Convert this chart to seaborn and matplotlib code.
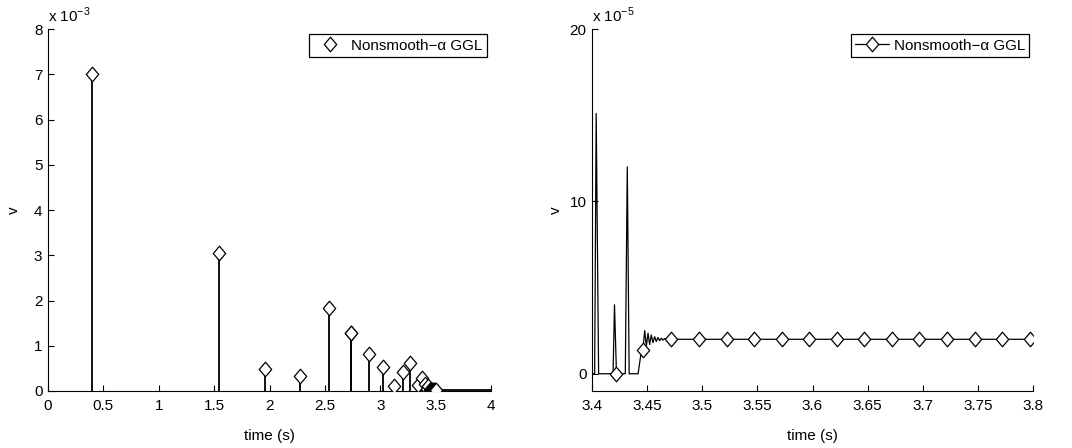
import numpy as np
import pandas as pd
import matplotlib
matplotlib.use("Agg")
import matplotlib.pyplot as plt
import seaborn as sns
from matplotlib.lines import Line2D
from matplotlib.path import Path

# ---------------- data ----------------
# Left panel: impact velocity spikes (v in units of 1e-3)
stem_time = [0.397, 1.546, 1.955, 2.277, 2.535, 2.735, 2.737, 2.899, 3.029, 3.128,
             3.209, 3.271, 3.345, 3.380, 3.404, 3.420, 3.432, 3.446, 3.452, 3.458,
             3.464, 3.470, 3.476, 3.482, 3.488, 3.494, 3.499]
stem_v_e3 = [7.01, 3.06, 0.49, 0.33, 1.84, 1.29, 1.29, 0.81, 0.53, 0.10,
             0.43, 0.61, 0.14, 0.28, 0.15, 0.04, 0.12, 0.014, 0.025, 0.018,
             0.022, 0.02, 0.02, 0.02, 0.02, 0.02, 0.02]
tail_time = [3.46, 4.0]
tail_v_e3 = [0.02, 0.02]

# Right panel: zoom on the end of the bouncing (v in units of 1e-5)
line_time = [3.4000, 3.4024, 3.4038, 3.4060, 3.4191, 3.4204, 3.4222, 3.4302, 3.4320,
             3.4337, 3.4418, 3.4445, 3.4462, 3.4478, 3.4493, 3.4508, 3.4523, 3.4538,
             3.4553, 3.4568, 3.4583, 3.4598, 3.4613, 3.4628, 3.4643, 3.4658, 3.4673,
             3.4688, 3.4710, 3.8000]
line_v_e5 = [0.0, 0.0, 15.1, 0.0, 0.0, 4.0, 0.0, 0.0, 12.0,
             0.0, 0.0, 1.2, 1.4, 2.5, 1.6, 2.35, 1.7, 2.25,
             1.8, 2.15, 1.87, 2.1, 1.92, 2.06, 1.95, 2.04, 1.98,
             2.02, 2.0, 2.0]
mark_time = [3.4222, 3.4462, 3.472, 3.497, 3.522, 3.547, 3.572, 3.597, 3.622,
             3.647, 3.672, 3.697, 3.722, 3.747, 3.772, 3.797]
mark_v_e5 = [0.0, 1.4, 2.0, 2.0, 2.0, 2.0, 2.0, 2.0, 2.0,
             2.0, 2.0, 2.0, 2.0, 2.0, 2.0, 2.0]

left_xticks = [0, 0.5, 1, 1.5, 2, 2.5, 3, 3.5, 4]
left_xticklabels = ["0", "0.5", "1", "1.5", "2", "2.5", "3", "3.5", "4"]
left_yticks = [0, 1, 2, 3, 4, 5, 6, 7, 8]
right_xticks = [3.4, 3.45, 3.5, 3.55, 3.6, 3.65, 3.7, 3.75, 3.8]
right_xticklabels = ["3.4", "3.45", "3.5", "3.55", "3.6", "3.65", "3.7", "3.75", "3.8"]
right_yticks = [0, 10, 20]
legend_label = "Nonsmooth\u2212\u03b1 GGL"

# ---------------- style ----------------
sns.set_style("ticks")
plt.rcParams['font.family'] = ['Liberation Sans', 'DejaVu Sans']
plt.rcParams['font.size'] = 11
plt.rcParams['axes.linewidth'] = 0.8
plt.rcParams['xtick.direction'] = 'in'
plt.rcParams['ytick.direction'] = 'in'
plt.rcParams['xtick.major.size'] = 4
plt.rcParams['ytick.major.size'] = 4
plt.rcParams['xtick.major.width'] = 0.8
plt.rcParams['ytick.major.width'] = 0.8
plt.rcParams['xtick.color'] = 'black'
plt.rcParams['ytick.color'] = 'black'
plt.rcParams['axes.edgecolor'] = 'black'
plt.rcParams['text.color'] = 'black'
plt.rcParams['axes.labelcolor'] = 'black'

diamond = Path([(0, 1), (0.85, 0), (0, -1), (-0.85, 0), (0, 1)],
               [Path.MOVETO, Path.LINETO, Path.LINETO, Path.LINETO, Path.CLOSEPOLY])
MS = 10.5

fig = plt.figure(figsize=(10.72, 4.48), dpi=100)
axL = fig.add_axes([48/1072, 1-391/448, (491-48)/1072, (391-29)/448])
axR = fig.add_axes([592/1072, 1-391/448, (1033-592)/1072, (391-29)/448])

# ---------------- left panel ----------------
df_stem = pd.DataFrame({"time": stem_time, "v": stem_v_e3})
axL.vlines(df_stem["time"], 0, df_stem["v"], colors='black', linewidth=1.3, zorder=2)
sns.lineplot(x=tail_time, y=tail_v_e3, ax=axL, color='black', linewidth=1.3,
             estimator=None, sort=False, zorder=2)
axL.plot(df_stem["time"], df_stem["v"], ls='none', marker=diamond, ms=MS,
         mfc='white', mec='black', mew=0.9, zorder=3)
axL.set_xlim(0, 4)
axL.set_ylim(0, 8)
axL.set_xticks(left_xticks)
axL.set_xticklabels(left_xticklabels)
axL.set_yticks(left_yticks)
axL.set_xlabel("time (s)", labelpad=11)
axL.set_ylabel("v", labelpad=9)
axL.tick_params(axis='x', pad=6)
axL.tick_params(axis='y', pad=4)
axL.text(0.0, 1.012, r"x 10$^{\mathregular{-3}}$", transform=axL.transAxes,
         ha='left', va='bottom', fontsize=11)
hL = Line2D([], [], ls='none', marker=diamond, ms=MS, mfc='white', mec='black', mew=0.9)
legL = axL.legend([hL], [legend_label], loc='upper right', bbox_to_anchor=(0.992, 0.986),
                  frameon=True, fancybox=False, framealpha=1, edgecolor='black',
                  handlelength=2.2, handletextpad=0.3, borderpad=0.3, borderaxespad=0)
legL.get_frame().set_linewidth(0.9)

# ---------------- right panel ----------------
sns.lineplot(x=line_time, y=line_v_e5, ax=axR, color='black', linewidth=0.9,
             estimator=None, sort=False, zorder=2)
axR.plot(mark_time, mark_v_e5, ls='none', marker=diamond, ms=MS,
         mfc='white', mec='black', mew=0.9, zorder=3)
axR.set_xlim(3.4, 3.8)
axR.set_ylim(-1, 20)
axR.set_xticks(right_xticks)
axR.set_xticklabels(right_xticklabels)
axR.set_yticks(right_yticks)
axR.set_xlabel("time (s)", labelpad=11)
axR.set_ylabel("v", labelpad=5)
axR.tick_params(axis='x', pad=6)
axR.tick_params(axis='y', pad=4)
axR.text(0.0, 1.012, r"x 10$^{\mathregular{-5}}$", transform=axR.transAxes,
         ha='left', va='bottom', fontsize=11)
hR = Line2D([], [], color='black', lw=0.9, marker=diamond, ms=MS,
            mfc='white', mec='black', mew=0.9)
legR = axR.legend([hR], [legend_label], loc='upper right', bbox_to_anchor=(0.992, 0.986),
                  frameon=True, fancybox=False, framealpha=1, edgecolor='black',
                  handlelength=2.2, handletextpad=0.3, borderpad=0.3, borderaxespad=0)
legR.get_frame().set_linewidth(0.9)

for ax in (axL, axR):
    sns.despine(ax=ax)
    ax.grid(False)

fig.savefig("out.png", dpi=100)
